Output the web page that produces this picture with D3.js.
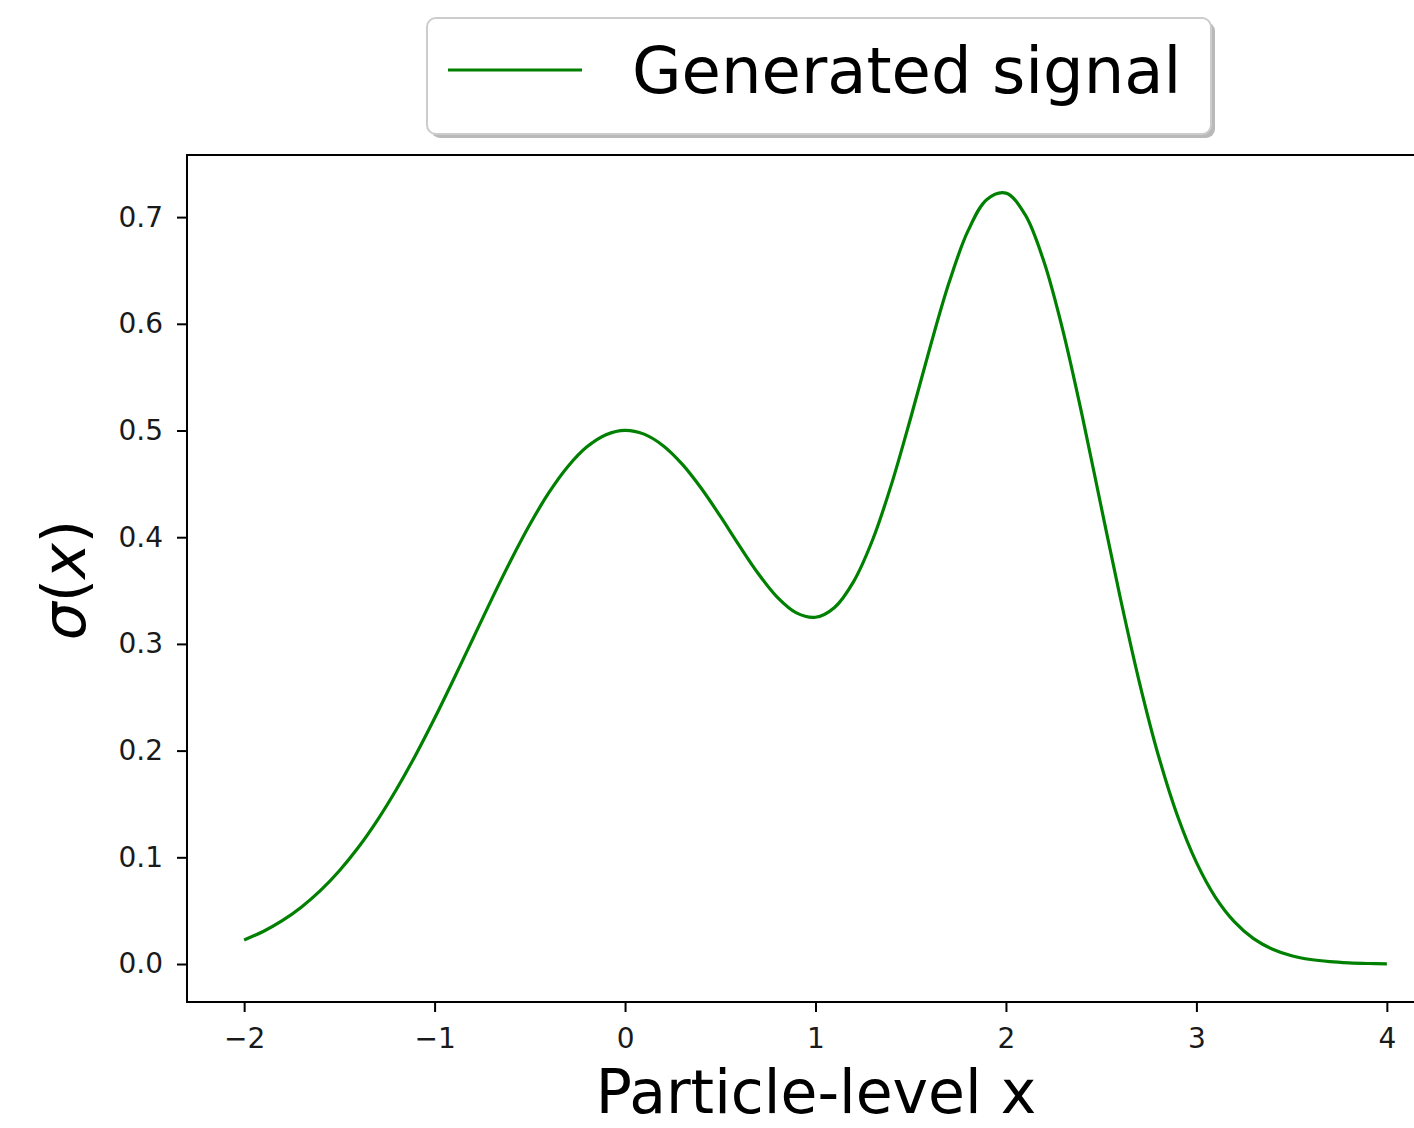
<!DOCTYPE html>
<html>
<head>
<meta charset="utf-8">
<script src="https://cdn.jsdelivr.net/npm/d3@7"></script>
<style>
  html, body { margin: 0; padding: 0; background: #fff; overflow: hidden; }
  svg { display: block; }
  text { font-family: "DejaVu Sans", sans-serif; }
</style>
</head>
<body>
<div id="chart"></div>
<script>
// ---- data ----
const xValues = [
  -2.0, -1.9, -1.8, -1.7, -1.6, -1.5, -1.4, -1.3, -1.2, -1.1,
  -1.0, -0.9, -0.8, -0.7, -0.6, -0.5, -0.4, -0.3, -0.2, -0.1,
   0.0,  0.1,  0.2,  0.3,  0.4,  0.5,  0.6,  0.7,  0.8,  0.9,
   1.0,  1.1,  1.2,  1.3,  1.4,  1.5,  1.6,  1.7,  1.8,  1.9,
   2.0,  2.1,  2.2,  2.3,  2.4,  2.5,  2.6,  2.7,  2.8,  2.9,
   3.0,  3.1,  3.2,  3.3,  3.4,  3.5,  3.6,  3.7,  3.8,  3.9,
   4.0
];
const signalValues = [
  0.0225, 0.0305, 0.0406, 0.0532, 0.0687, 0.0874, 0.1094, 0.1349, 0.1638, 0.1957,
  0.2303, 0.2669, 0.3044, 0.3420, 0.3782, 0.4119, 0.4417, 0.4663, 0.4847, 0.4961,
  0.5002, 0.4966, 0.4858, 0.4685, 0.4459, 0.4197, 0.3921, 0.3658, 0.3437, 0.3291,
  0.3250, 0.3342, 0.3584, 0.3976, 0.4502, 0.5120, 0.5770, 0.6379, 0.6868, 0.7166,
  0.7225, 0.7025, 0.6579, 0.5930, 0.5141, 0.4285, 0.3435, 0.2645, 0.1957, 0.1392,
  0.0952, 0.0625, 0.0395, 0.0238, 0.0139, 0.0078, 0.0042, 0.0022, 0.0011, 0.0005,
  0.0002
];
const xTicks = [-2, -1, 0, 1, 2, 3, 4];
const yTicks = [0.0, 0.1, 0.2, 0.3, 0.4, 0.5, 0.6, 0.7];
const seriesLabel = "Generated signal";
const xLabel = "Particle-level x";

// ---- layout ----
const W = 1414, H = 1128;
const plot = { left: 187, top: 155, right: 1444, bottom: 1002 };

const svg = d3.select("#chart").append("svg")
  .attr("width", W).attr("height", H)
  .attr("viewBox", `0 0 ${W} ${H}`);

const x = d3.scaleLinear().domain([-2.3, 4.3]).range([plot.left, plot.right]);
const y = d3.scaleLinear().domain([-0.0356, 0.7582]).range([plot.bottom, plot.top]);

// line
const line = d3.line()
  .x((d, i) => x(xValues[i]))
  .y(d => y(d))
  .curve(d3.curveCatmullRom.alpha(0.5));

svg.append("path")
  .datum(signalValues)
  .attr("fill", "none")
  .attr("stroke", "#008000")
  .attr("stroke-width", 3.2)
  .attr("stroke-linejoin", "round")
  .attr("d", line);

// axes
const xAxis = svg.append("g")
  .attr("transform", `translate(0,${plot.bottom})`)
  .call(d3.axisBottom(x).tickValues(xTicks).tickSize(10).tickPadding(16)
        .tickFormat(d3.format("d")));
const yAxis = svg.append("g")
  .attr("transform", `translate(${plot.left},0)`)
  .call(d3.axisLeft(y).tickValues(yTicks).tickSize(10).tickPadding(14)
        .tickFormat(d3.format(".1f")));

[xAxis, yAxis].forEach(g => {
  g.select(".domain").remove();
  g.selectAll(".tick line").attr("stroke", "#000").attr("stroke-width", 2);
  g.selectAll(".tick text")
    .attr("fill", "#1a1a1a")
    .style("font-family", "'DejaVu Sans', sans-serif")
    .style("font-size", "28px");
});

// spines (left, top, bottom; right spine falls outside the frame)
svg.append("rect")
  .attr("x", plot.left).attr("y", plot.top)
  .attr("width", plot.right - plot.left).attr("height", plot.bottom - plot.top)
  .attr("fill", "none").attr("stroke", "#000").attr("stroke-width", 2);

// x label
svg.append("text")
  .attr("x", 816).attr("y", 1113)
  .attr("text-anchor", "middle")
  .style("font-size", "60px")
  .attr("fill", "#000")
  .text(xLabel);

// y label sigma(x)
const yl = svg.append("text")
  .attr("transform", "translate(85,580) rotate(-90)")
  .attr("text-anchor", "middle")
  .style("font-size", "60px")
  .attr("fill", "#000");
yl.append("tspan").style("font-style", "italic").text("σ");
yl.append("tspan").text("(");
yl.append("tspan").style("font-style", "italic").text("x");
yl.append("tspan").text(")");

// legend
const lg = svg.append("g");
lg.append("rect")
  .attr("x", 431).attr("y", 22).attr("width", 784).attr("height", 116)
  .attr("rx", 9).attr("fill", "#808080").attr("opacity", 0.55);
lg.append("rect")
  .attr("x", 427).attr("y", 18).attr("width", 784).attr("height", 116)
  .attr("rx", 9).attr("fill", "#fff").attr("stroke", "#cccccc").attr("stroke-width", 2);
lg.append("line")
  .attr("x1", 448).attr("x2", 582).attr("y1", 70).attr("y2", 70)
  .attr("stroke", "#008000").attr("stroke-width", 3.2);
lg.append("text")
  .attr("x", 632).attr("y", 93)
  .style("font-size", "64px")
  .attr("fill", "#000")
  .text(seriesLabel);
</script>
</body>
</html>
